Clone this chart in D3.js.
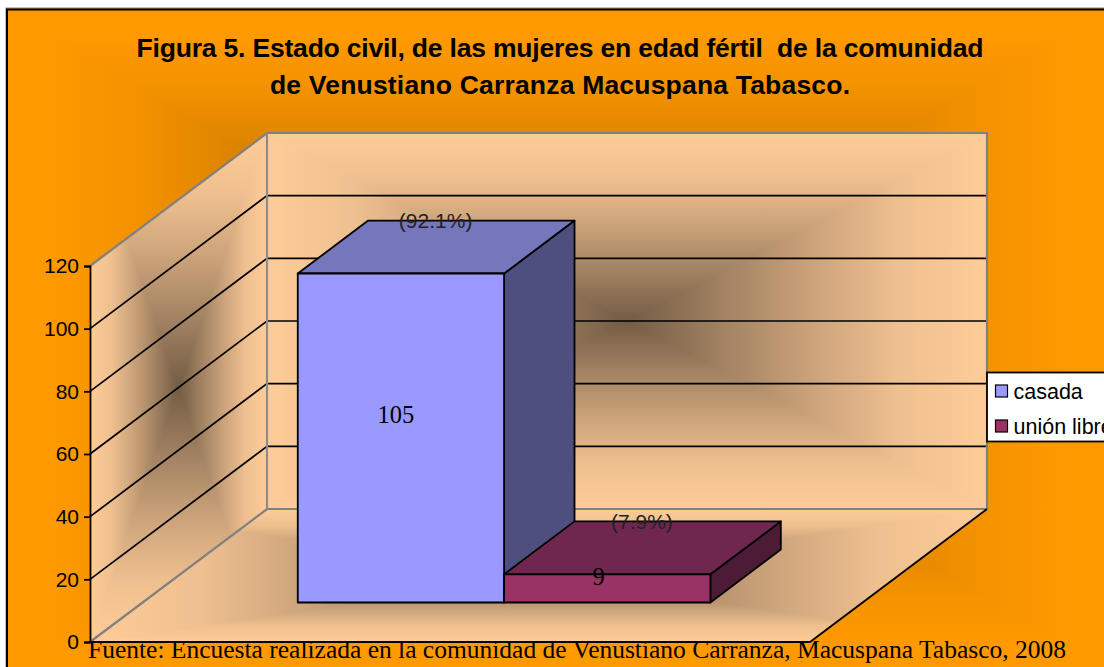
<!DOCTYPE html>
<html>
<head>
<meta charset="utf-8">
<script src="https://cdn.jsdelivr.net/npm/d3@7"></script>
<style>
  html, body { margin: 0; padding: 0; background: #fff; overflow: hidden; }
  svg { display: block; }
  text { white-space: pre; }
  .sans { font-family: "Liberation Sans", Arial, sans-serif; }
  .serif { font-family: "Liberation Serif", "Times New Roman", serif; }
</style>
</head>
<body>
<svg id="chart" width="1104" height="667"></svg>
<script>
const titleLines = [
  'Figura 5. Estado civil, de las mujeres en edad fértil  de la comunidad',
  'de Venustiano Carranza Macuspana Tabasco.'
]
const sourceText = 'Fuente: Encuesta realizada en la comunidad de Venustiano Carranza, Macuspana Tabasco, 2008'
const seriesNames = ['casada', 'unión libre']
const seriesValues = [105, 9]
const percentLabels = ['(92.1%)', '(7.9%)']
const yTicks = [0, 20, 40, 60, 80, 100, 120]

const barColors = [
  { front: '#9999ff', top: '#7676bd', side: '#4e4e7f' },
  { front: '#993366', top: '#70274f', side: '#4c1b36' }
]

const svg = d3.select('#chart')
const defs = svg.append('defs')

// plot frame: front left corner of the floor and how far the box goes back
const originX = 90
const floorWidth = 720
const depthDx = 177
const depthDy = -133
const barDepthStart = 0.297
const barDepthEnd = 0.695

const y = d3.scaleLinear().domain([0, 120]).range([642, 266])
const x = d3.scaleBand()
  .domain(seriesNames)
  .range([1.5, floorWidth + 1.5])
  .paddingInner(0)
  .paddingOuter(0.745)

const project = (px, value, z) => [originX + px + depthDx * z, y(value) + depthDy * z]

// "from center" fill: four triangles, each with a gradient running out from the middle
const directions = { e: [1, 0], w: [-1, 0], n: [0, -1], s: [0, 1] }
const wallTones = [[0, 0.45], [0.25, 0.625], [0.5, 0.79], [0.75, 0.935], [1, 1]]
const orangeTones = [[0, 0.45], [0.25, 0.64], [0.5, 0.82], [0.75, 0.95], [0.92, 1], [1, 1]]

const makeGradients = (name, base, tones) => {
  const c = d3.rgb(base)
  Object.keys(directions).forEach(k => {
    const g = defs.append('linearGradient')
      .attr('id', `${name}-${k}`)
      .attr('gradientUnits', 'userSpaceOnUse')
      .attr('x1', 0).attr('y1', 0)
      .attr('x2', directions[k][0]).attr('y2', directions[k][1])
    tones.forEach(t => {
      g.append('stop')
        .attr('offset', t[0])
        .attr('stop-color', d3.rgb(c.r * t[1], c.g * t[1], c.b * t[1]).formatHex())
    })
  })
}

makeGradients('orange', '#ff9900', orangeTones)
makeGradients('wall', '#ffcc99', wallTones)

// the gradient fills the bounding box of the face and the face clips it
let faceCount = 0
const drawFace = (name, corners) => {
  const [x0, x1] = d3.extent(corners, p => p[0])
  const [y0, y1] = d3.extent(corners, p => p[1])
  const id = `face-clip-${faceCount++}`
  defs.append('clipPath').attr('id', id)
    .append('polygon')
    .attr('points', corners.map(p => p.join(',')).join(' '))
  const holder = svg.append('g').attr('clip-path', `url(#${id})`)
  const g = holder.append('g')
    .attr('transform', `translate(${(x0 + x1) / 2},${(y0 + y1) / 2}) scale(${(x1 - x0) / 2},${(y1 - y0) / 2})`)
  const triangles = {
    e: [[0, 0], [1, -1], [1, 1]],
    w: [[0, 0], [-1, -1], [-1, 1]],
    n: [[0, 0], [-1, -1], [1, -1]],
    s: [[0, 0], [-1, 1], [1, 1]]
  }
  Object.keys(triangles).forEach(k => {
    g.append('polygon')
      .attr('points', triangles[k].map(p => p.join(',')).join(' '))
      .attr('fill', `url(#${name}-${k})`)
      .attr('shape-rendering', 'crispEdges')
  })
}

// chart area, runs off the right and bottom of the window
svg.append('rect')
  .attr('x', 6).attr('y', 8).attr('width', 1120).attr('height', 680)
  .attr('fill', '#ff9900').attr('stroke', '#888').attr('stroke-width', 1)
drawFace('orange', [[7, 9], [1106, 9], [1106, 670], [7, 670]])
svg.append('rect')
  .attr('x', 7).attr('y', 9.5).attr('width', 1120).attr('height', 680)
  .attr('fill', 'none').attr('stroke', '#000').attr('stroke-width', 2)

drawFace('wall', [project(0, 0, 0), project(0, 0, 1), project(0, 120, 1), project(0, 120, 0)])
drawFace('wall', [project(0, 0, 1), project(floorWidth, 0, 1), project(floorWidth, 120, 1), project(0, 120, 1)])
drawFace('wall', [project(0, 0, 0), project(floorWidth, 0, 0), project(floorWidth, 0, 1), project(0, 0, 1)])

const line = d3.line()
const drawLine = (points, color, width) => {
  svg.append('path')
    .attr('d', line(points))
    .attr('fill', 'none')
    .attr('stroke', color)
    .attr('stroke-width', width)
}

// gridlines along the side wall and the back wall
yTicks.filter(t => t > 0 && t < 120).forEach(t => {
  drawLine([
    project(0, t, 0),
    project(0, t, 1),
    project(floorWidth, t, 1)
  ], '#000', 1.7)
})

// wall edges
drawLine([project(0, 120, 0), project(0, 120, 1), project(floorWidth, 120, 1), project(floorWidth, 0, 1)], '#808080', 2.2)
drawLine([project(0, 120, 1), project(0, 0, 1)], '#8c8c8c', 2.2)
drawLine([project(0, 0, 0), project(0, 0, 1), project(floorWidth, 0, 1)], '#808080', 2.2)
drawLine([project(0, 0, 0), project(floorWidth, 0, 0), project(floorWidth, 0, 1)], '#000', 1.8)

// axis
const yAxis = d3.axisLeft(y).tickValues(yTicks).tickSize(6).tickPadding(5)
const axisG = svg.append('g')
  .attr('transform', `translate(${originX},0)`)
  .call(yAxis)
axisG.selectAll('path, line').attr('stroke', '#000').attr('stroke-width', 1.8)
axisG.selectAll('text')
  .attr('class', 'sans')
  .attr('font-size', 21)
  .attr('fill', '#000')
axisG.attr('font-family', null)

// bars
const face = (points, fill) => {
  svg.append('polygon')
    .attr('points', points.map(p => p.join(',')).join(' '))
    .attr('fill', fill)
    .attr('stroke', '#000')
    .attr('stroke-width', 1.8)
    .attr('stroke-linejoin', 'round')
}

seriesNames.forEach((name, i) => {
  const v = seriesValues[i]
  const l = x(name)
  const r = l + x.bandwidth()
  const zf = barDepthStart
  const zb = barDepthEnd
  face([project(r, 0, zf), project(r, 0, zb), project(r, v, zb), project(r, v, zf)], barColors[i].side)
  face([project(l, v, zf), project(r, v, zf), project(r, v, zb), project(l, v, zb)], barColors[i].top)
  face([project(l, 0, zf), project(r, 0, zf), project(r, v, zf), project(l, v, zf)], barColors[i].front)
})

// data labels
seriesNames.forEach((name, i) => {
  const v = seriesValues[i]
  const mid = x(name) + x.bandwidth() / 2
  const base = project(mid, 0, barDepthStart)
  const barH = y(0) - y(v)

  svg.append('text')
    .attr('class', 'serif')
    .attr('x', base[0] - 9 + barH * 0.012)
    .attr('y', base[1] - 11 - barH * 0.538)
    .attr('dy', '0.35em')
    .attr('text-anchor', 'middle')
    .attr('font-size', 24.5)
    .attr('fill', '#000')
    .text(v)

  const back = project(mid, v, (barDepthStart + barDepthEnd) / 2)
  svg.append('text')
    .attr('class', 'sans')
    .attr('x', back[0] - 0.5)
    .attr('y', project(mid, v, barDepthEnd)[1] + 0.5)
    .attr('dy', '0.35em')
    .attr('text-anchor', 'middle')
    .attr('font-size', 21)
    .attr('fill', '#222')
    .text(percentLabels[i])
})

// title
const titleWidths = [847, 580]
titleLines.forEach((t, i) => {
  svg.append('text')
    .attr('class', 'sans')
    .attr('x', 560)
    .attr('y', 57 + i * 37)
    .attr('text-anchor', 'middle')
    .attr('font-size', 26.5)
    .attr('font-weight', 'bold')
    .attr('fill', '#000')
    .attr('textLength', titleWidths[i])
    .attr('lengthAdjust', 'spacing')
    .text(t)
})

// legend, cut off by the window like the original
svg.append('rect')
  .attr('x', 987).attr('y', 372.5).attr('width', 140).attr('height', 69)
  .attr('fill', '#fff').attr('stroke', '#000').attr('stroke-width', 1.8)

const legendY = d3.scalePoint().domain(seriesNames).range([391, 426])
seriesNames.forEach((name, i) => {
  svg.append('rect')
    .attr('x', 995.5).attr('y', legendY(name) - 6)
    .attr('width', 12).attr('height', 12)
    .attr('fill', barColors[i].front)
    .attr('stroke', '#000').attr('stroke-width', 1.2)
  svg.append('text')
    .attr('class', 'sans')
    .attr('x', 1013.5)
    .attr('y', legendY(name))
    .attr('dy', '0.35em')
    .attr('font-size', 21.5)
    .attr('fill', '#000')
    .text(name)
})

// source line sits on top of the chart
svg.append('text')
  .attr('class', 'serif')
  .attr('x', 88)
  .attr('y', 658)
  .attr('font-size', 25.5)
  .attr('fill', '#000')
  .text(sourceText)
</script>
</body>
</html>
